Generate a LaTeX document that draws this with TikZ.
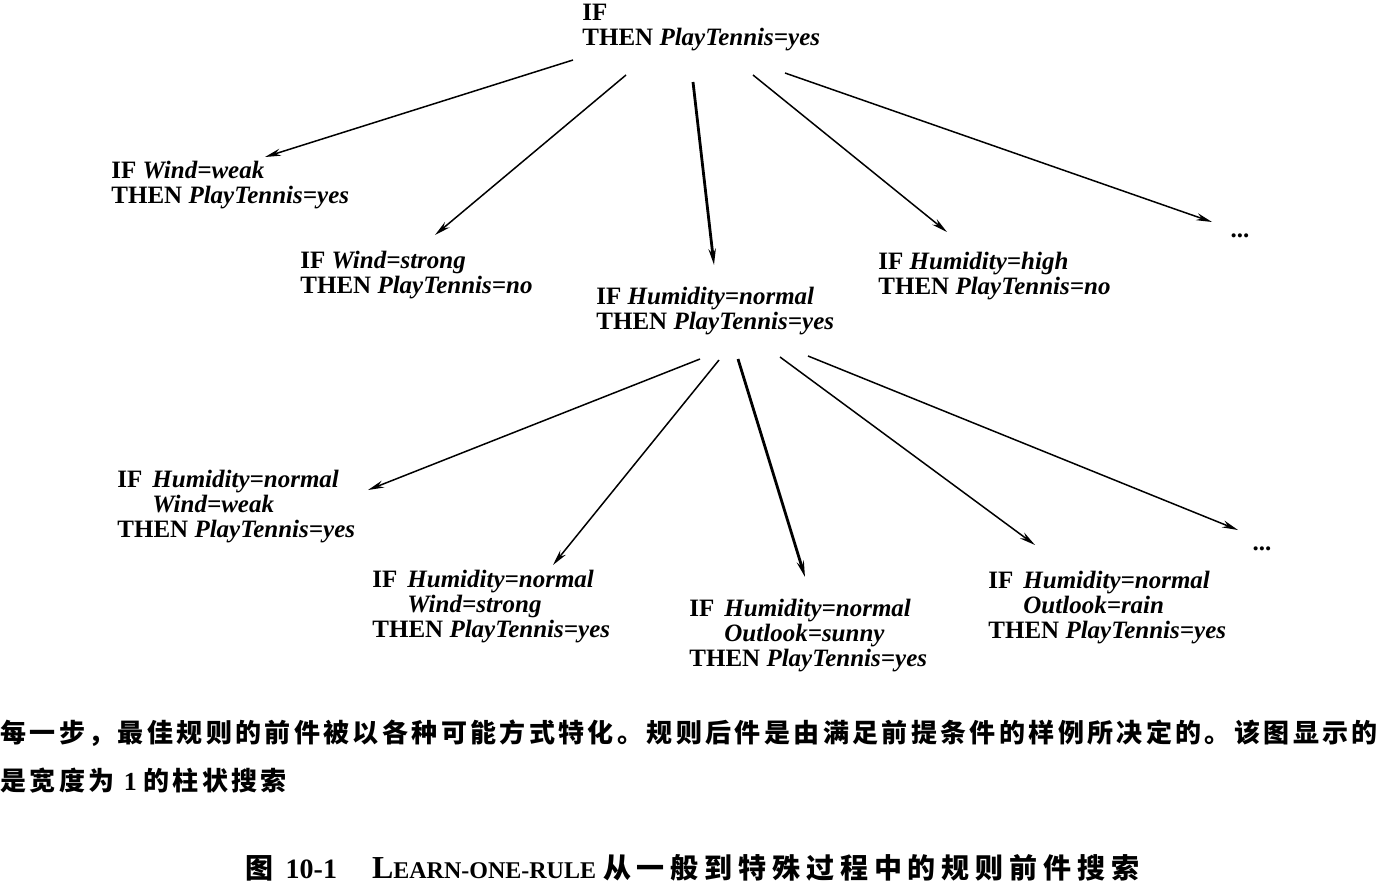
\documentclass[tikz,border=0pt]{standalone}
\usepackage{fontspec}
\setmainfont{Liberation Serif}
\newfontfamily\cjk[LetterSpace=13]{Noto Sans CJK SC}
\newfontfamily\cjkcap[LetterSpace=21]{Noto Sans CJK SC}
\usepackage{tikz}
\usetikzlibrary{arrows.meta, positioning, calc}

\newcommand{\ifkw}{\makebox[17.5pt][l]{IF}}

\begin{document}
\begin{tikzpicture}[x=0.5pt, y=-0.5pt,
    rule/.style={anchor=north west, inner sep=0pt, align=left,
        font=\bfseries\fontsize{12.5}{12.5}\selectfont},
    more/.style={inner sep=0pt, font=\bfseries\fontsize{12.5}{12.5}\selectfont},
    arrow/.style={-{Stealth[length=8pt, width=3.6pt]}, line width=0.75pt},
    best/.style={arrow, line width=1.4pt},
    note/.style={anchor=west, inner sep=0pt, font=\bfseries\fontsize{13}{13}\selectfont}
]
\useasboundingbox (0,0) rectangle (1379,884);

% Root rule
\node[rule] (root) at (582,4) {IF\\THEN \textit{PlayTennis=yes}};

% First specialisation step
\node[rule] (weak) at (111,161) {IF \textit{Wind=weak}\\THEN \textit{PlayTennis=yes}};
\node[rule] (strong) at (300,251) {IF \textit{Wind=strong}\\THEN \textit{PlayTennis=no}};
\node[rule] (hnormal) at (596,287) {IF \textit{Humidity=normal}\\THEN \textit{PlayTennis=yes}};
\node[rule] (hhigh) at (878,252) {IF \textit{Humidity=high}\\THEN \textit{PlayTennis=no}};
\node[more] (dotsA) at (1240,236) {...};

% Second specialisation step
\node[rule] (hnweak) at (117,470) {\ifkw\textit{Humidity=normal}\\\hspace*{17.5pt}\textit{Wind=weak}\\THEN \textit{PlayTennis=yes}};
\node[rule] (hnstrong) at (372,570) {\ifkw\textit{Humidity=normal}\\\hspace*{17.5pt}\textit{Wind=strong}\\THEN \textit{PlayTennis=yes}};
\node[rule] (hnsunny) at (689,599) {\ifkw\textit{Humidity=normal}\\\hspace*{17.5pt}\textit{Outlook=sunny}\\THEN \textit{PlayTennis=yes}};
\node[rule] (hnrain) at (988,571) {\ifkw\textit{Humidity=normal}\\\hspace*{17.5pt}\textit{Outlook=rain}\\THEN \textit{PlayTennis=yes}};
\node[more] (dotsB) at (1262,549) {...};

% Arrows from the root
\draw[arrow] ($(root.north west)+(-9,56)$) -- ($(weak.north west)+(154,-4)$);
\draw[arrow] ($(root.north west)+(44,71)$) -- ($(strong.north west)+(135,-16)$);
\draw[best] ($(root.north west)+(111,78)$) -- ($(hnormal.north west)+(118,-22)$);
\draw[arrow] ($(root.north west)+(171,71)$) -- ($(hhigh.north west)+(69,-20)$);
\draw[arrow] ($(root.north west)+(203,69)$) -- ($(dotsA.center)+(-28,-14)$);

% Arrows from the best rule
\draw[arrow] ($(hnormal.north west)+(104,72)$) -- ($(hnweak.north west)+(251,20)$);
\draw[arrow] ($(hnormal.north west)+(123,73)$) -- ($(hnstrong.north west)+(181,-5)$);
\draw[best] ($(hnormal.north west)+(142,72)$) -- ($(hnsunny.north west)+(116,-22)$);
\draw[arrow] ($(hnormal.north west)+(184,70)$) -- ($(hnrain.north west)+(47,-26)$);
\draw[arrow] ($(hnormal.north west)+(212,69)$) -- ($(dotsB.center)+(-24,-19)$);

% Notes under the picture
\node[note] (line1) at (0,733) {\cjk\bfseries 每一步，最佳规则的前件被以各种可能方式特化。规则后件是由满足前提条件的样例所决定的。该图显示的};
\node[note] (line2) at (0,781) {\cjk\bfseries 是宽度为\ \rmfamily 1\ \cjk 的柱状搜索};
\node[note, anchor=west, font=\bfseries\fontsize{14}{14}\selectfont] (caption) at (245,868)
    {\cjkcap 图\ \rmfamily 10-1\quad\ {\fontsize{16}{16}\selectfont L}{\fontsize{12}{12}\selectfont EARN-ONE-RULE}\ \cjkcap 从一般到特殊过程中的规则前件搜索};

\end{tikzpicture}
\end{document}
